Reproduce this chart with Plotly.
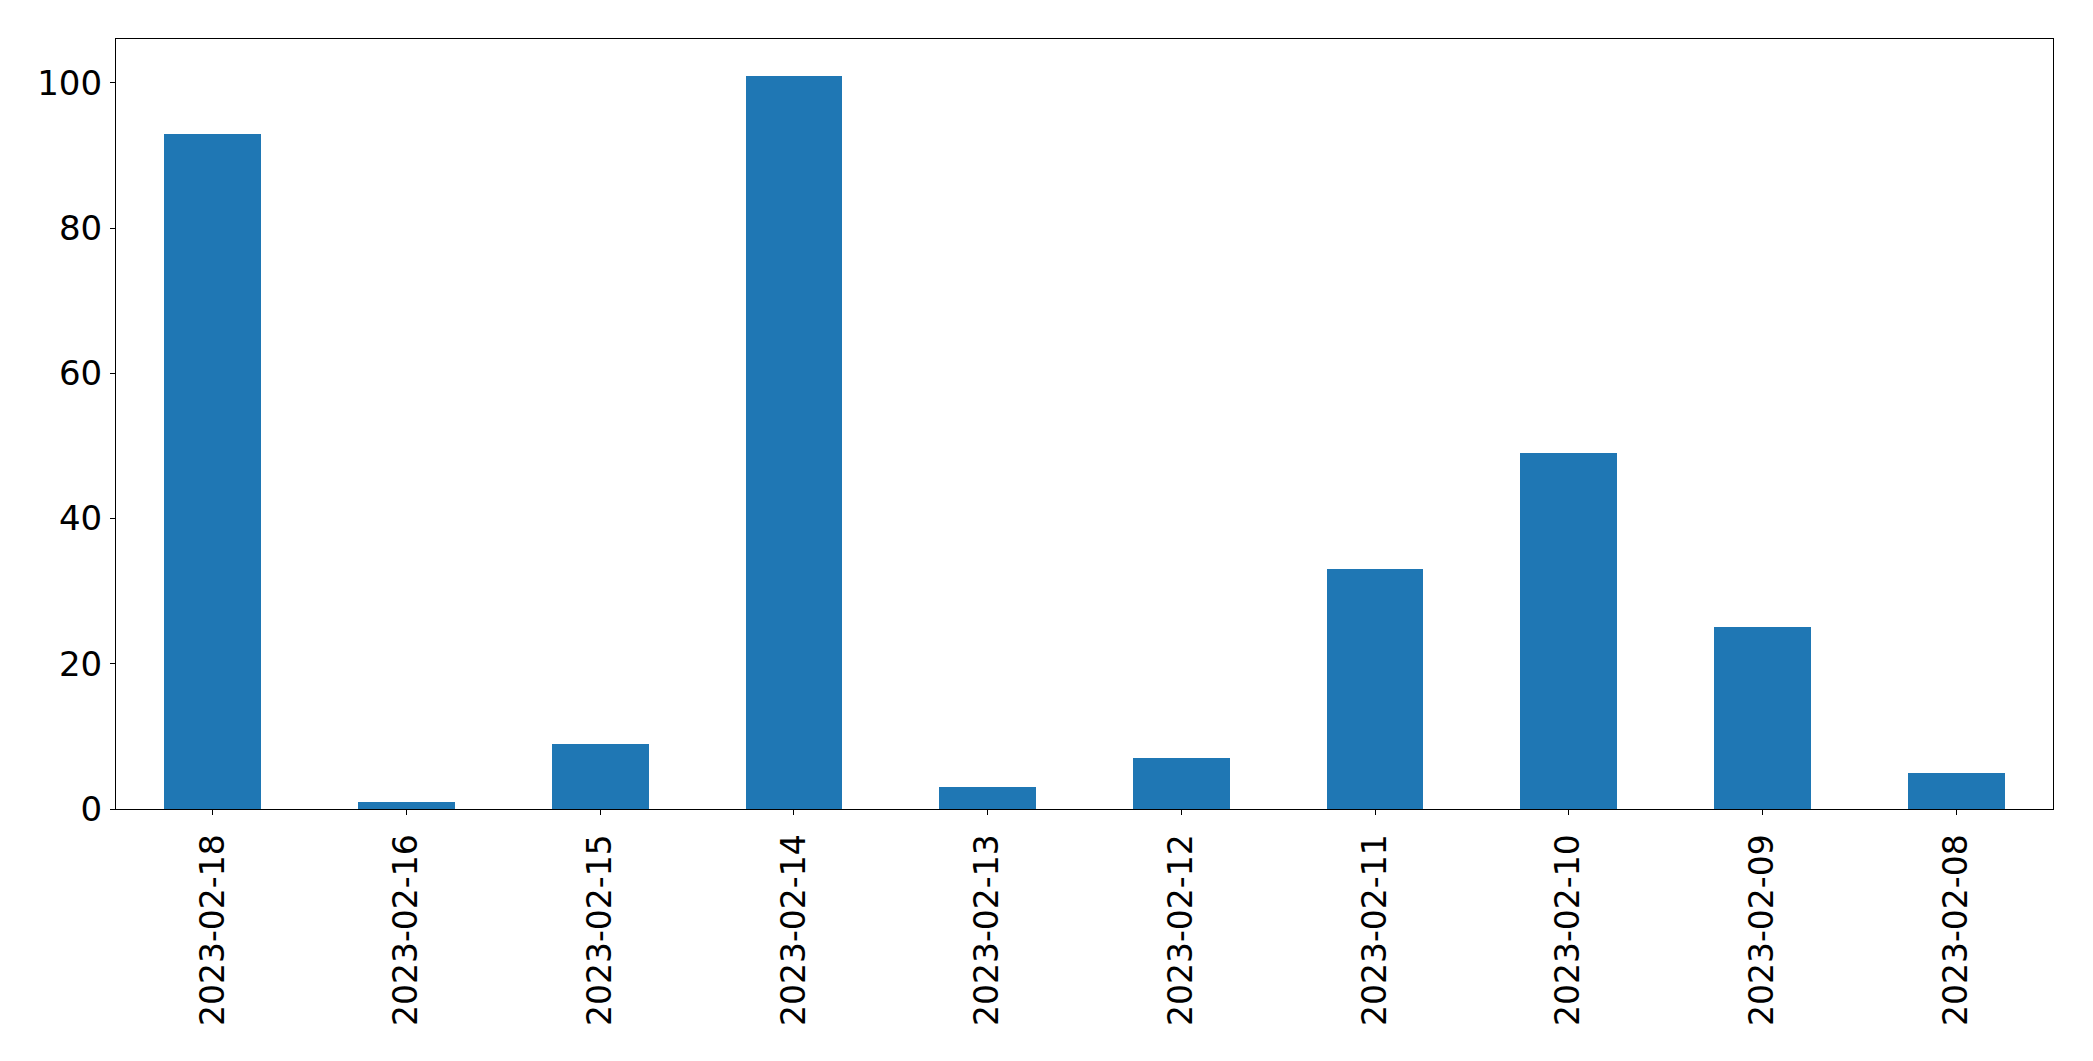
import plotly.graph_objects as go

dates = ["2023-02-18", "2023-02-16", "2023-02-15", "2023-02-14", "2023-02-13",
         "2023-02-12", "2023-02-11", "2023-02-10", "2023-02-09", "2023-02-08"]
counts = [93, 1, 9, 101, 3, 7, 33, 49, 25, 5]
y_ticks = [0, 20, 40, 60, 80, 100]

fig = go.Figure(go.Bar(x=dates, y=counts, marker_color="#1f77b4",
                       marker_line_width=0, width=0.5))

# page body has an 8px margin; size figure to fit the window exactly
W, H = 2077, 1045
fig.update_layout(
    width=W, height=H,
    margin=dict(l=108, r=32, t=31, b=244, pad=0),
    plot_bgcolor="white", paper_bgcolor="white",
    font=dict(family="DejaVu Sans", size=33, color="black"),
    showlegend=False, bargap=0,
)
fig.update_xaxes(
    type="category", range=[-0.5, len(dates) - 0.5],
    tickangle=-90, ticks="outside", ticklen=5, tickwidth=1.1, tickcolor="black",
    showline=True, linecolor="black", linewidth=1.1, mirror=True,
    showgrid=False, zeroline=False, tickfont=dict(size=33),
    ticklabelstandoff=6, automargin=False,
)
fig.update_yaxes(
    range=[0, max(counts) * 1.05], tickvals=y_ticks,
    ticks="outside", ticklen=5, tickwidth=1.1, tickcolor="black",
    showline=True, linecolor="black", linewidth=1.1, mirror=True,
    showgrid=False, zeroline=False, tickfont=dict(size=34),
    ticklabelstandoff=1, automargin=False,
)
fig.write_html("out.html")
